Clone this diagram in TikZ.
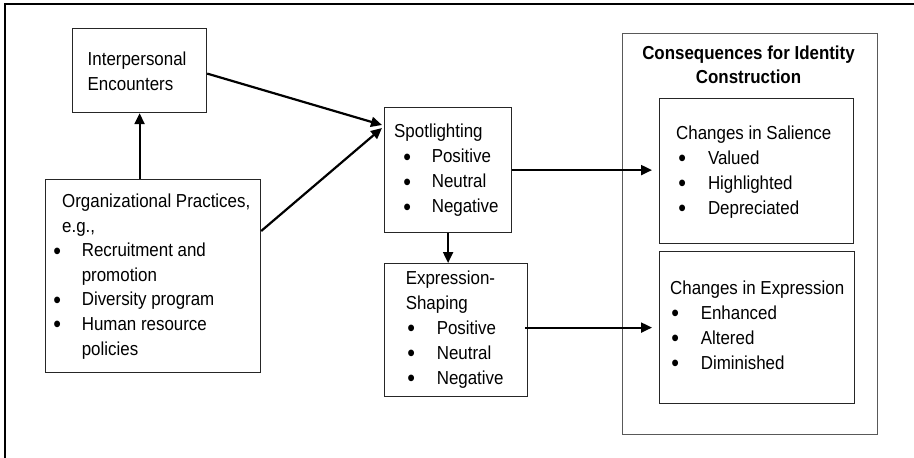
\documentclass[tikz,border=0pt]{standalone}
\usepackage{graphicx}
\usepackage{fontspec}
\setmainfont{Liberation Sans}[FakeStretch=0.9]
\usetikzlibrary{arrows.meta}
\newcommand{\fst}{\rule{0pt}{14pt}}
\newcommand{\blt}{\raisebox{-2.3pt}{\scalebox{1.3}{\textbullet}}}
\newcommand{\itm}[3]{\hspace*{#1}\makebox[#2][l]{\blt}#3}
\tikzset{
  box/.style={draw=black!85, line width=1.2pt, anchor=north west, inner sep=0pt},
  txt/.style={anchor=north west, inner sep=0pt, align=left, font=\fontsize{18.8}{25}\selectfont},
  flow/.style={line width=2.2pt, -{Triangle[length=11pt,width=10pt]}}
}
\begin{document}
\begin{tikzpicture}[x=1pt,y=-1pt]
        \useasboundingbox (0,0) rectangle (914,458);
        % frame: only top and left edges show
        \draw[line width=1.5pt] (914,4) -- (5,4) -- (5,458);
        % left column
        \node[box, minimum width=134pt, minimum height=84pt] (inter) at (72,28) {};
        \node[txt] (interT) at (87.5,51) {\fst Interpersonal\\Encounters};
        \node[box, minimum width=215pt, minimum height=193pt] (org) at (45,179) {};
        \node[txt, font=\fontsize{18.8}{24.6}\selectfont] (orgT) at (53.2,193.3)
          {\hspace*{8.8pt}\fst Organizational Practices,\\
           \hspace*{8.8pt}e.g.,\\
           \itm{0pt}{28.4pt}{Recruitment and}\\
           \hspace*{28.4pt}promotion\\
           \itm{0pt}{28.4pt}{Diversity program}\\
           \itm{0pt}{28.4pt}{Human resource}\\
           \hspace*{28.4pt}policies};
        % middle column
        \node[box, minimum width=127pt, minimum height=125pt] (spot) at (384,107) {};
        \node[txt] (spotT) at (394,123.5)
          {\fst Spotlighting\\
           \itm{9.2pt}{28.4pt}{Positive}\\
           \itm{9.2pt}{28.4pt}{Neutral}\\
           \itm{9.2pt}{28.4pt}{Negative}};
        \node[box, minimum width=143pt, minimum height=133pt] (shape) at (384,263) {};
        \node[txt] (shapeT) at (405.6,270)
          {\fst Expression-\\
           Shaping\\
           \itm{1.6pt}{29.4pt}{Positive}\\
           \itm{1.6pt}{29.4pt}{Neutral}\\
           \itm{1.6pt}{29.4pt}{Negative}};
        % right column: consequences
        \node[box, draw=black!65, minimum width=255pt, minimum height=401pt] (cons) at (622,33) {};
        \node[txt, align=center, font=\fontsize{18.8}{24}\selectfont\bfseries, anchor=north] (consT) at (748.5,45.3)
          {\fst Consequences for Identity\\Construction};
        \node[box, minimum width=194pt, minimum height=145pt] (sal) at (659,98) {};
        \node[txt] (salT) at (676,125)
          {\fst Changes in Salience\\
           \itm{2.2pt}{29.6pt}{Valued}\\
           \itm{2.2pt}{29.6pt}{Highlighted}\\
           \itm{2.2pt}{29.6pt}{Depreciated}};
        \node[box, minimum width=195pt, minimum height=152pt] (expr) at (659,251) {};
        \node[txt] (exprT) at (670,280)
          {\fst Changes in Expression\\
           \itm{1.2pt}{29.4pt}{Enhanced}\\
           \itm{1.2pt}{29.4pt}{Altered}\\
           \itm{1.2pt}{29.4pt}{Diminished}};
        % arrows
        \draw[flow] (org.north -| inter.south) -- (inter.south);
        \draw[flow] ([yshift=-3pt]inter.east) -- ([shift={(-2pt,-18pt)}]spot.north west);
        \draw[flow] ([yshift=-52pt]org.north east) -- ([shift={(-2pt,-21pt)}]spot.north west);
        \draw[flow] (spot.south) -- (spot.south |- shape.north);
        \draw[flow, shorten >=7pt] (spot.east) -- (spot.east -| sal.west);
        \draw[flow, shorten >=7pt, shorten <=-3pt] (shape.east |- expr.west) -- (expr.west);
    \end{tikzpicture}
\end{document}
